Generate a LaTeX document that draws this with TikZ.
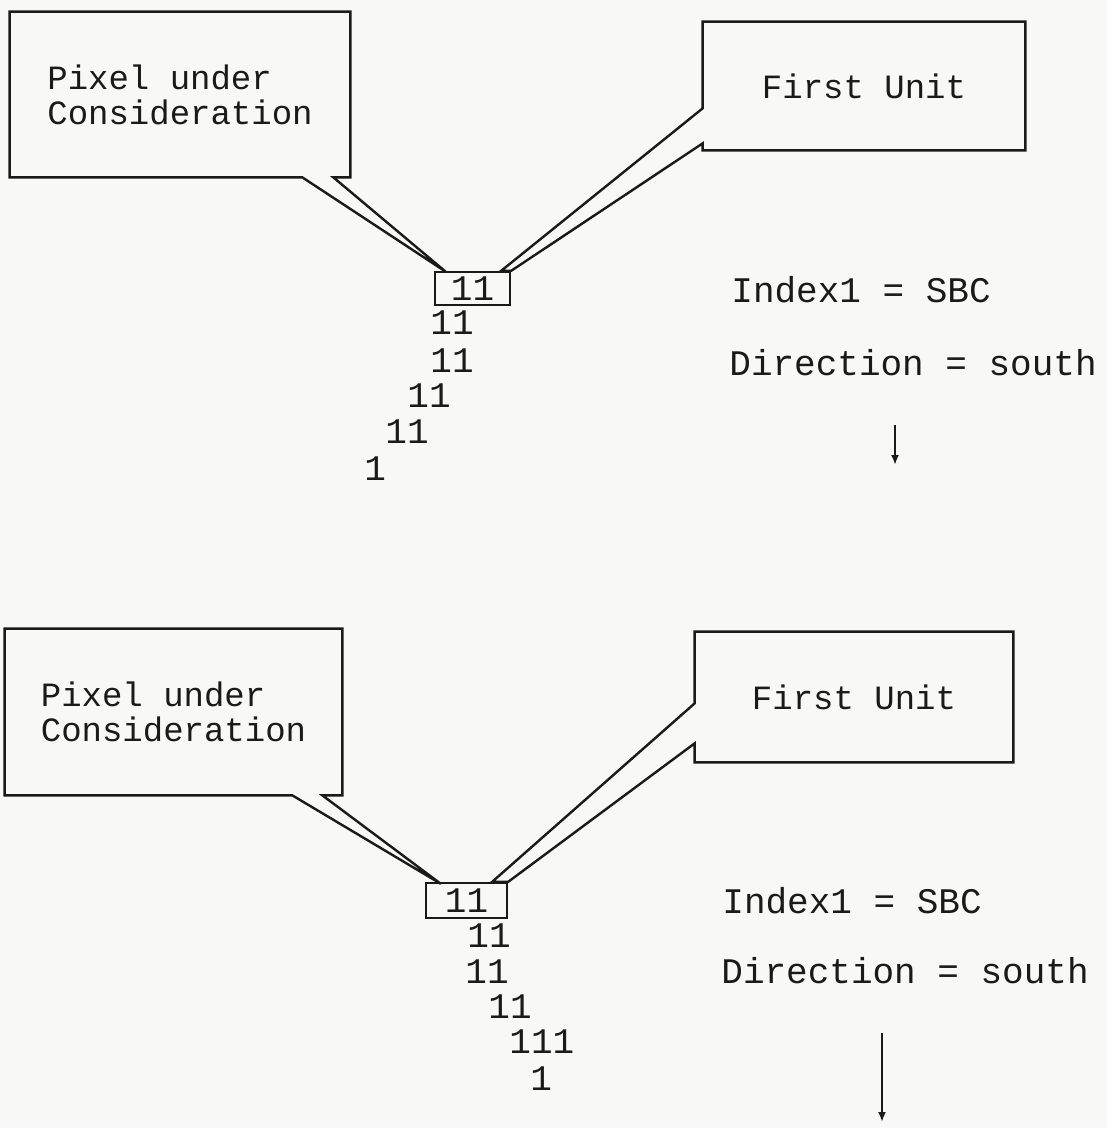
\documentclass[tikz,border=0pt]{standalone}
\usepackage{fontspec}
\setmonofont{Liberation Mono}
\usepackage{tikz}
\usetikzlibrary{arrows.meta,calc}
\definecolor{paper}{HTML}{F8F8F6}
\definecolor{ink}{HTML}{1A1A1A}
\tikzset{
  callout/.style ={draw=none, inner sep=0pt, align=left, text=ink,
                   font=\fontsize{17}{17.5}\selectfont\ttfamily},
  outline/.style ={draw=ink, line width=1.2pt},
  pixbox/.style  ={draw=ink, line width=1.2pt, inner sep=0pt, text=ink,
                   font=\fontsize{18}{18}\selectfont\ttfamily},
  digits/.style  ={inner sep=0pt, anchor=base west, text=ink,
                   font=\fontsize{18}{18}\selectfont\ttfamily},
  note/.style    ={inner sep=0pt, anchor=base west, text=ink,
                   font=\fontsize{18}{18}\selectfont\ttfamily},
  heading/.style ={draw=ink, line width=1pt, -{Latex[length=5pt,width=4pt]}},
}

\begin{document}
\begin{tikzpicture}[x=0.5pt,y=-0.5pt]
  \fill[paper] (0,0) rectangle (1107,1128);
  \useasboundingbox (0,0) rectangle (1107,1128);

  % ---------------------------------------------------------------- upper trace
  \node[callout, minimum width=170pt, minimum height=82.5pt] (pix1) at (180,94.5)
        {Pixel under\\Consideration};
  \node[callout, minimum width=161pt, minimum height=64pt]   (unit1) at (864,86)
        {First Unit};
  \node[pixbox, minimum width=37.5pt, minimum height=16.5pt] (sel1) at (472.5,288.5) {11};

  \node[digits] (r12) at (430,335) {11};
  \node[digits] (r13) at (430,372) {11};
  \node[digits] (r14) at (407,407) {11};
  \node[digits] (r15) at (385,443) {11};
  \node[digits] (r16) at (364,480) {1};

  \node[note] (idx1) at (731,303) {Index1 = SBC};
  \node[note] (dir1) at (729,375) {Direction = south};

  % callout outlines, pointers end on the selected pixel box
  \draw[outline] (pix1.north west) -- (pix1.north east) -- (pix1.south east)
        -- ++(-17,0) -- ($(sel1.north west)+(12,1)$) -- ($(pix1.south east)+(-48,0)$)
        -- (pix1.south west) -- cycle;
  \draw[outline] (unit1.north west) -- (unit1.north east) -- (unit1.south east)
        -- (unit1.south west) -- ++(0,-7) -- (sel1.north east)
        -- ($(sel1.north east)+(-10,0)$) -- ($(unit1.south west)+(0,-42)$) -- cycle;

  \coordinate (a1top) at (895,425);
  \coordinate (a1tip) at (895,465);
  \draw[heading] (a1top) -- (a1tip);

  % ---------------------------------------------------------------- lower trace
  \node[callout, minimum width=168.5pt, minimum height=83pt] (pix2) at (173.5,712)
        {Pixel under\\Consideration};
  \node[callout, minimum width=159pt, minimum height=65pt]   (unit2) at (854,697)
        {First Unit};
  \node[pixbox, minimum width=40.5pt, minimum height=17.5pt] (sel2) at (466.5,900.5) {11};

  \node[digits] (r22) at (467,947)  {11};
  \node[digits] (r23) at (465,983)  {11};
  \node[digits] (r24) at (488,1018) {11};
  \node[digits] (r25) at (509,1053) {111};
  \node[digits] (r26) at (530,1090) {1};

  \node[note] (idx2) at (722,913) {Index1 = SBC};
  \node[note] (dir2) at (721,983) {Direction = south};

  \draw[outline] (pix2.north west) -- (pix2.north east) -- (pix2.south east)
        -- ++(-20,0) -- ($(sel2.north west)+(16,2)$) -- ($(pix2.south east)+(-50,0)$)
        -- (pix2.south west) -- cycle;
  \draw[outline] (unit2.north west) -- (unit2.north east) -- (unit2.south east)
        -- (unit2.south west) -- ++(0,-19) -- (sel2.north east)
        -- ($(sel2.north east)+(-16,0)$) -- ($(unit2.south west)+(0,-59)$) -- cycle;

  \coordinate (a2top) at (882,1033);
  \coordinate (a2tip) at (882,1122);
  \draw[heading] (a2top) -- (a2tip);
\end{tikzpicture}
\end{document}
